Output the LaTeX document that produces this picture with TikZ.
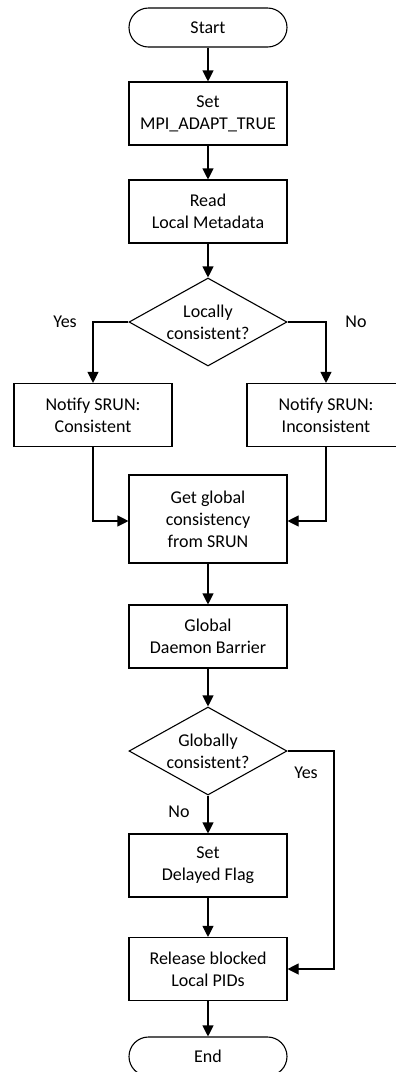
\documentclass[tikz,border=0pt]{standalone}
\usepackage{fontspec}
\setmainfont{Carlito}
\usetikzlibrary{arrows.meta,shapes.geometric}

\tikzset{
  every node/.style={font=\fontsize{18}{22}\selectfont},
  proc/.style={draw, line width=1.1pt, rectangle, minimum width=158pt,
    minimum height=63pt, align=center, inner sep=2pt},
  term/.style={draw, line width=1.1pt, rectangle, rounded corners=19.5pt,
    minimum width=158pt, minimum height=39pt, inner sep=2pt},
  decide/.style={draw, line width=1.1pt, diamond, aspect=1.8, inner sep=-3pt,
    minimum width=158pt, minimum height=88pt, align=center},
  flow/.style={line width=1.1pt, -{Triangle[length=11pt,width=11pt]}},
  tag/.style={inner sep=1pt}
}

\begin{document}
\begin{tikzpicture}[x=1pt,y=-1pt]
  \useasboundingbox (0,0) rectangle (396,1072);
  \clip (0,0) rectangle (396,1072);

  % main column
  \node[term]   (start)   at (208,27.5)  {Start};
  \node[proc]   (set)     at (208,113.5) {Set\\MPI\_ADAPT\_TRUE};
  \node[proc]   (read)    at (208,211.5) {Read\\Local Metadata};
  \node[decide] (local)   at (208,322)   {Locally\\consistent?};
  \node[proc]   (notc)    at (93,415)    {Notify SRUN:\\Consistent};
  \node[proc]   (noti)    at (326,415)   {Notify SRUN:\\Inconsistent};
  \node[proc, minimum height=88pt] (get) at (208,519) {Get global\\consistency\\from SRUN};
  \node[proc]   (barrier) at (208,636.5) {Global\\Daemon Barrier};
  \node[decide] (global)  at (208,751)   {Globally\\consistent?};
  \node[proc]   (delay)   at (208,865.5) {Set\\Delayed Flag};
  \node[proc]   (release) at (208,969)   {Release blocked\\Local PIDs};
  \node[term]   (end)     at (208,1056.5) {End};

  % branch labels
  \node[tag] (yes1) at (65,322)  {Yes};
  \node[tag] (no1)  at (356,322) {No};
  \node[tag] (yes2) at (306,773) {Yes};
  \node[tag] (no2)  at (179,812) {No};

  % connectors
  \draw[flow] (start) -- (set);
  \draw[flow] (set) -- (read);
  \draw[flow] (read) -- (local);
  \draw[flow] (local.west) -| (notc.north);
  \draw[flow] (local.east) -| (noti.north);
  \draw[flow] (notc.south) |- ([yshift=-2pt]get.west);
  \draw[flow] (noti.south) |- ([yshift=-2pt]get.east);
  \draw[flow] (get) -- (barrier);
  \draw[flow] (barrier) -- (global);
  \draw[flow] (global) -- (delay);
  \coordinate (bypass) at (334,751);
  \draw[flow] (global.east) -- (bypass) |- (release.east);
  \draw[flow] (delay) -- (release);
  \draw[flow] (release) -- (end);
\end{tikzpicture}
\end{document}
